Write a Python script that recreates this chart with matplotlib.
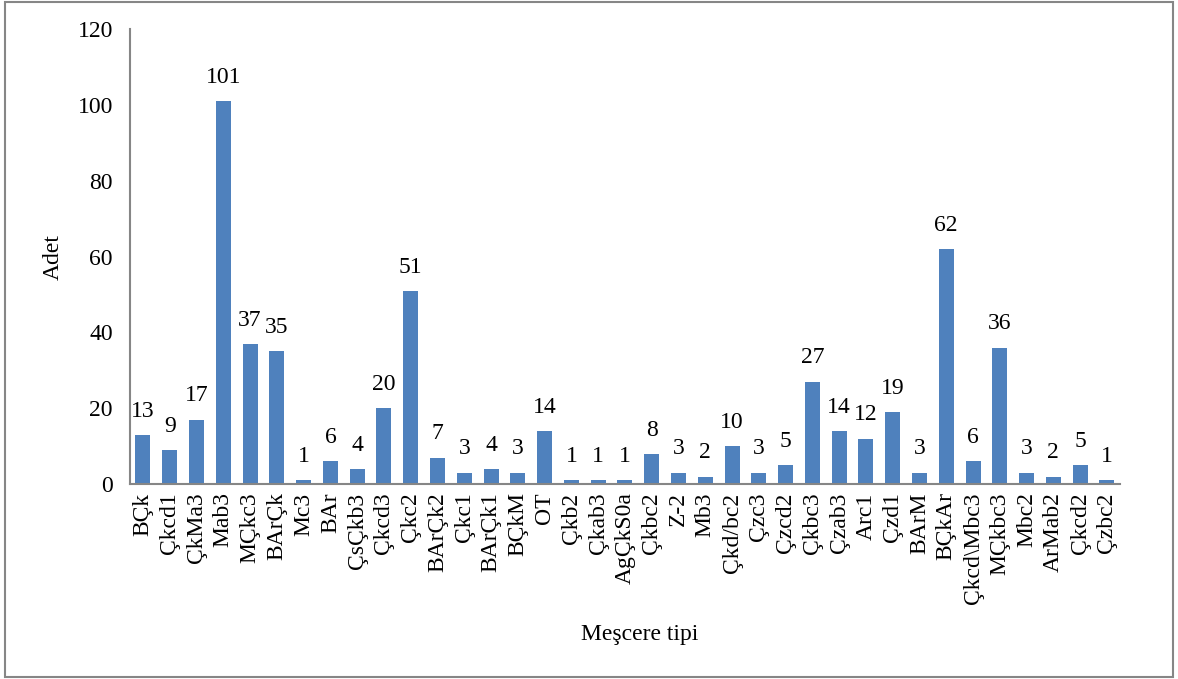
import matplotlib.pyplot as plt
from matplotlib.patches import Rectangle

types = ['BÇk', 'Çkcd1', 'ÇkMa3', 'Mab3', 'MÇkc3', 'BArÇk', 'Mc3', 'BAr', 'ÇsÇkb3',
         'Çkcd3', 'Çkc2', 'BArÇk2', 'Çkc1', 'BArÇk1', 'BÇkM', 'OT', 'Çkb2', 'Çkab3',
         'AgÇkS0a', 'Çkbc2', 'Z-2', 'Mb3', 'Çkd/bc2', 'Çzc3', 'Çzcd2', 'Çkbc3', 'Çzab3',
         'Arc1', 'Çzd1', 'BArM', 'BÇkAr', 'Çkcd\\Mbc3', 'MÇkbc3', 'Mbc2', 'ArMab2',
         'Çkcd2', 'Çzbc2']
counts = [13, 9, 17, 101, 37, 35, 1, 6, 4, 20, 51, 7, 3, 4, 3, 14, 1, 1, 1, 8, 3, 2,
          10, 3, 5, 27, 14, 12, 19, 3, 62, 6, 36, 3, 2, 5, 1]

plt.rcParams['font.family'] = ['Liberation Serif', 'DejaVu Serif']

fig = plt.figure(figsize=(11.78, 6.79), dpi=100)
ax = fig.add_axes([0.110, 0.287, 0.841, 0.670])

x = list(range(len(types)))
bars = ax.bar(x, counts, width=0.56, color='#4F81BD')
for xi, c in zip(x, counts):
    ax.text(xi, c + 3.5, str(c), ha='center', va='bottom', fontsize=17)

ax.set_xlim(-0.5, len(types) - 0.5)
ax.set_ylim(0, 120)
ax.set_yticks(range(0, 121, 20))
ax.set_xticks(x)
ax.set_xticklabels(types, rotation=90, fontsize=17)
ax.tick_params(axis='y', labelsize=17, length=0, pad=12)
ax.tick_params(axis='x', length=0, pad=6)
for s in ['top', 'right']:
    ax.spines[s].set_visible(False)
for s in ['left', 'bottom']:
    ax.spines[s].set_color('#868686')
    ax.spines[s].set_linewidth(1.5)

ax.set_ylabel('Adet', fontsize=17)
ax.yaxis.set_label_coords(-0.066, 0.5)
fig.text(0.543, 0.066, 'Meşcere tipi', ha='center', va='center', fontsize=17)

fig.patches.append(Rectangle((0.004, 0.003), 0.992, 0.994, transform=fig.transFigure,
                             fill=False, edgecolor='#868686', linewidth=1.5))

plt.savefig('out.png', dpi=100)
